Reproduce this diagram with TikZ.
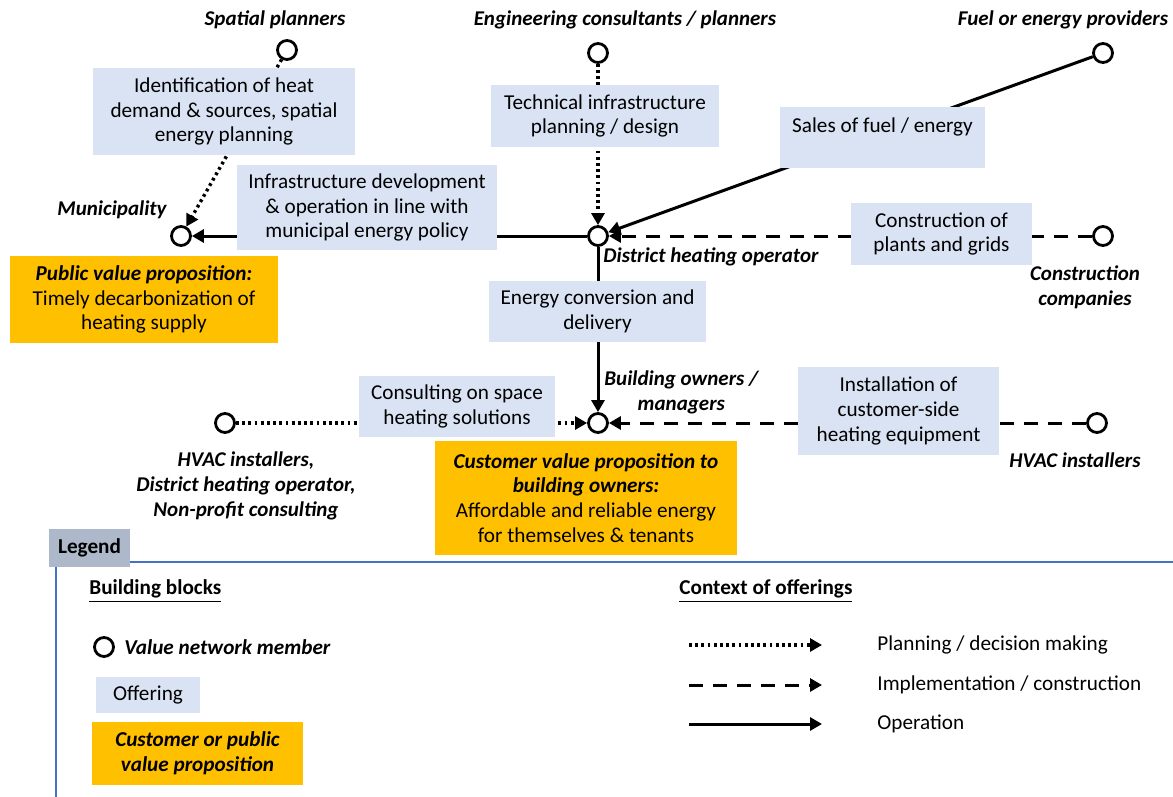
\documentclass[tikz,border=0pt]{standalone}
\usepackage{fontspec}
\setmainfont{Carlito}
\usetikzlibrary{arrows.meta}
\pgfdeclarelayer{bg}
\pgfsetlayers{bg,main}
\definecolor{offerblue}{HTML}{DAE3F3}
\definecolor{valueorange}{HTML}{FFC000}
\definecolor{legendgray}{HTML}{ADB9CA}
\definecolor{legendblue}{HTML}{4472C4}
\tikzset{
  member/.style={circle, draw=black, line width=1.4pt, fill=white, minimum size=9.5pt, inner sep=0pt},
  role/.style={font=\fontsize{10.5}{12.4}\selectfont\bfseries\itshape, align=center, inner sep=0pt},
  offer/.style={fill=offerblue, align=center, inner sep=0pt},
  valueprop/.style={fill=valueorange, align=center, inner sep=0pt},
  flow/.style={line width=1.5pt, -{Triangle[length=6pt,width=6.5pt]}},
  planning/.style={line width=1.7pt, dash pattern=on 1.4pt off 1.7pt},
  implementation/.style={dash pattern=on 7pt off 5pt},
  legendtext/.style={anchor=west, inner sep=0pt},
}
\begin{document}
\begin{tikzpicture}[x=0.5pt, y=-0.5pt, font=\fontsize{10.6}{12.4}\selectfont]
\useasboundingbox (0,0) rectangle (1173,797);

% value network members
\node[member] (spatial) at (287,50) {};
\node[member] (eng) at (598,53) {};
\node[member] (fuel) at (1103,53) {};
\node[member] (mun) at (181,236) {};
\node[member] (dh) at (598,236) {};
\node[member] (constr) at (1103,236) {};
\node[member] (hvacl) at (225,423) {};
\node[member] (owners) at (598,423) {};
\node[member] (hvacr) at (1097,423) {};

% member names
\node[role] (lspatial) at (275,20) {Spatial planners};
\node[role] (leng) at (625,20) {Engineering consultants / planners};
\node[role] (lfuel) at (1063,20) {Fuel or energy providers};
\node[role] (lmun) at (112,210) {Municipality};
\node[role, anchor=west] (ldh) at (603,257) {District heating operator};
\node[role] (lconstr) at (1085,287) {Construction\\companies};
\node[role, anchor=west] (lowners) at (604,392) {Building owners /\\managers};
\node[role] (lhvacl) at (246,486) {HVAC installers,\\District heating operator,\\Non-profit consulting};
\node[role] (lhvacr) at (1075,460) {HVAC installers};

% offerings
\node[offer, minimum width=131pt, minimum height=43.5pt] (ident) at (224,111.5)
  {Identification of heat\\demand \& sources, spatial\\energy planning};
\node[offer, minimum width=114pt, minimum height=31pt] (tech) at (605,116)
  {Technical infrastructure\\planning / design};
\node[offer, minimum width=102.5pt, minimum height=30.5pt] (sales) at (882.5,137.5)
  {Sales of fuel / energy\\\mbox{}};
\node[offer, minimum width=130pt, minimum height=42.5pt] (infra) at (367,207.5)
  {Infrastructure development\\\& operation in line with\\municipal energy policy};
\node[offer, minimum width=90.5pt, minimum height=31pt] (plants) at (941.5,234)
  {Construction of\\plants and grids};
\node[offer, minimum width=108.5pt, minimum height=30.5pt] (conv) at (597.5,311.5)
  {Energy conversion and\\delivery};
\node[offer, minimum width=98pt, minimum height=30.5pt] (consult) at (457,406.5)
  {Consulting on space\\heating solutions};
\node[offer, minimum width=100.5pt, minimum height=44pt] (install) at (898.5,411)
  {Installation of\\customer-side\\heating equipment};

% value propositions
\node[valueprop, minimum width=134pt, minimum height=43.5pt] (public) at (144,299.5)
  {\textbf{\textit{Public value proposition:}}\\Timely decarbonization of\\heating supply};
\node[valueprop, minimum width=151pt, minimum height=57pt] (customer) at (586,498)
  {\textbf{\textit{Customer value proposition to}}\\\textbf{\textit{building owners:}}\\Affordable and reliable energy\\for themselves \& tenants};

% offering flows, drawn beneath the boxes
\begin{pgfonlayer}{bg}
  \draw[flow, planning] (spatial) -- (mun);
  \draw[flow] (dh) -- (mun);
  \draw[flow, planning] (eng) -- (dh);
  \draw[flow] (fuel) -- (dh);
  \draw[flow, implementation] (constr) -- (dh);
  \draw[flow] (dh) -- (owners);
  \draw[flow, planning] (hvacl) -- (owners);
  \draw[flow, implementation] (hvacr) -- (owners);
\end{pgfonlayer}

% legend frame
\coordinate (frameTL) at (56,562);
\coordinate (frameBL) at (56,797);
\coordinate (frameR) at (1173,562);
\draw[legendblue, line width=1pt] (frameBL) -- (frameTL) -- (frameR);
\node[fill=legendgray, minimum width=40.5pt, minimum height=19pt, inner sep=0pt, font=\fontsize{10.6}{12}\selectfont\bfseries] (legend) at (89.5,548) {Legend};

% legend: building blocks
\node[legendtext, font=\fontsize{10.6}{12}\selectfont\bfseries] (hblocks) at (89,591) {\underline{Building blocks}};
\node[member] (lgmember) at (104,647) {};
\node[legendtext, font=\fontsize{10.6}{12}\selectfont\bfseries\itshape] (lgmembertxt) at (124,647) {Value network member};
\node[offer, minimum width=52pt, minimum height=18pt] (lgoffer) at (148,695) {Offering};
\node[valueprop, minimum width=105.5pt, minimum height=31.5pt, font=\fontsize{10.6}{12.4}\selectfont\bfseries\itshape] (lgvalue) at (197.5,753.5) {Customer or public\\value proposition};

% legend: context of offerings
\node[legendtext, font=\fontsize{10.6}{12}\selectfont\bfseries] (hcontext) at (679,591) {\underline{Context of offerings}};
\coordinate (pa) at (689,645); \coordinate (pb) at (822,645);
\coordinate (ia) at (689,685); \coordinate (ib) at (822,685);
\coordinate (oa) at (689,724); \coordinate (ob) at (822,724);
\draw[flow, planning] (pa) -- (pb);
\draw[flow, implementation] (ia) -- (ib);
\draw[flow] (oa) -- (ob);
\node[legendtext] (tplan) at (877,645) {Planning / decision making};
\node[legendtext] (timpl) at (877,685) {Implementation / construction};
\node[legendtext] (toper) at (877,724) {Operation};
\end{tikzpicture}
\end{document}
